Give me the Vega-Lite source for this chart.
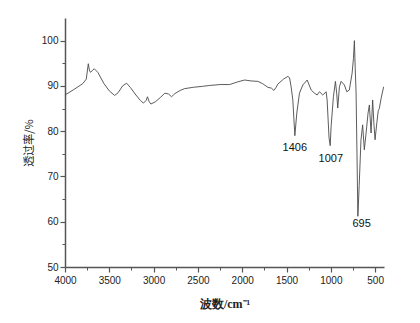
{
  "$schema": "https://vega.github.io/schema/vega-lite/v6.json",
  "width": 319,
  "height": 249,
  "autosize": {"type": "none"},
  "padding": {"left": 65, "top": 18, "right": 36, "bottom": 56},
  "background": "white",
  "config": {"view": {"stroke": null}},
  "layer": [
    {
      "data": {"values": [
        {"wn": 4000, "T": 88.0}, {"wn": 3900, "T": 89.2}, {"wn": 3800, "T": 90.5}, {"wn": 3760, "T": 91.5},
        {"wn": 3737, "T": 94.9}, {"wn": 3725, "T": 93.5}, {"wn": 3712, "T": 93.0}, {"wn": 3670, "T": 93.8},
        {"wn": 3630, "T": 93.0}, {"wn": 3560, "T": 90.5}, {"wn": 3500, "T": 88.9}, {"wn": 3440, "T": 87.9},
        {"wn": 3400, "T": 88.5}, {"wn": 3350, "T": 90.0}, {"wn": 3305, "T": 90.6}, {"wn": 3260, "T": 89.6},
        {"wn": 3200, "T": 88.0}, {"wn": 3150, "T": 86.8}, {"wn": 3115, "T": 86.2}, {"wn": 3085, "T": 86.8},
        {"wn": 3069, "T": 87.6}, {"wn": 3050, "T": 86.5}, {"wn": 3030, "T": 86.0}, {"wn": 2980, "T": 86.5},
        {"wn": 2920, "T": 87.5}, {"wn": 2874, "T": 88.4}, {"wn": 2830, "T": 88.2}, {"wn": 2798, "T": 87.6},
        {"wn": 2760, "T": 88.3}, {"wn": 2700, "T": 89.0}, {"wn": 2650, "T": 89.4}, {"wn": 2550, "T": 89.7},
        {"wn": 2450, "T": 89.9}, {"wn": 2367, "T": 90.1}, {"wn": 2250, "T": 90.3}, {"wn": 2142, "T": 90.3},
        {"wn": 2050, "T": 90.9}, {"wn": 1973, "T": 91.3}, {"wn": 1900, "T": 91.1}, {"wn": 1823, "T": 91.0},
        {"wn": 1770, "T": 90.5}, {"wn": 1711, "T": 89.7}, {"wn": 1670, "T": 89.5}, {"wn": 1643, "T": 89.0},
        {"wn": 1620, "T": 89.6}, {"wn": 1598, "T": 90.4}, {"wn": 1534, "T": 91.5}, {"wn": 1485, "T": 92.1},
        {"wn": 1466, "T": 91.8}, {"wn": 1448, "T": 89.8}, {"wn": 1429, "T": 86.9}, {"wn": 1406, "T": 79.0},
        {"wn": 1384, "T": 84.0}, {"wn": 1354, "T": 88.4}, {"wn": 1316, "T": 90.2}, {"wn": 1267, "T": 91.3},
        {"wn": 1222, "T": 89.1}, {"wn": 1185, "T": 88.4}, {"wn": 1154, "T": 88.0}, {"wn": 1128, "T": 88.7},
        {"wn": 1091, "T": 88.0}, {"wn": 1053, "T": 88.7}, {"wn": 1042, "T": 86.9}, {"wn": 1020, "T": 78.5},
        {"wn": 1007, "T": 76.8}, {"wn": 997, "T": 81.0}, {"wn": 971, "T": 87.6}, {"wn": 948, "T": 91.0},
        {"wn": 934, "T": 88.4}, {"wn": 922, "T": 85.1}, {"wn": 903, "T": 89.8}, {"wn": 884, "T": 91.0},
        {"wn": 847, "T": 90.2}, {"wn": 820, "T": 88.7}, {"wn": 791, "T": 89.1}, {"wn": 760, "T": 92.8},
        {"wn": 745, "T": 96.0}, {"wn": 734, "T": 100.0}, {"wn": 725, "T": 94.0}, {"wn": 715, "T": 88.4},
        {"wn": 705, "T": 75.0}, {"wn": 695, "T": 61.2}, {"wn": 680, "T": 68.0}, {"wn": 660, "T": 78.0},
        {"wn": 641, "T": 81.4}, {"wn": 622, "T": 75.9}, {"wn": 600, "T": 80.0}, {"wn": 580, "T": 84.0},
        {"wn": 565, "T": 85.8}, {"wn": 546, "T": 79.6}, {"wn": 528, "T": 86.9}, {"wn": 515, "T": 82.0},
        {"wn": 501, "T": 78.1}, {"wn": 480, "T": 82.0}, {"wn": 465, "T": 84.5}, {"wn": 453, "T": 85.0},
        {"wn": 430, "T": 87.5}, {"wn": 404, "T": 89.8}
      ]},
      "mark": {"type": "line", "color": "#4a4a4a", "strokeWidth": 0.9, "clip": true},
      "encoding": {
        "x": {
          "field": "wn", "type": "quantitative", "sort": null,
          "scale": {"domain": [400, 4000], "reverse": true, "nice": false, "zero": false},
          "axis": {
            "orient": "bottom", "values": [4000, 3500, 3000, 2500, 2000, 1500, 1000, 500], "format": "d",
            "grid": false, "domainColor": "#555", "domainWidth": 1.5, "tickColor": "#555", "tickWidth": 1.2,
            "tickSize": 5, "labelFont": "Liberation Sans", "labelFontSize": 10, "labelColor": "#222",
            "labelPadding": 3, "labelFlush": false, "labelOverlap": false,
            "title": "波数/cm⁻¹", "titleFont": "Liberation Serif", "titleFontWeight": "bold",
            "titleFontSize": 12, "titleColor": "#222", "titlePadding": 13
          }
        },
        "y": {
          "field": "T", "type": "quantitative",
          "scale": {"domain": [50, 105], "nice": false, "zero": false},
          "axis": {
            "orient": "left", "values": [50, 60, 70, 80, 90, 100], "format": "d",
            "grid": false, "domainColor": "#555", "domainWidth": 1.5, "tickColor": "#555", "tickWidth": 1.2,
            "tickSize": 5, "labelFont": "Liberation Sans", "labelFontSize": 10, "labelColor": "#222",
            "labelPadding": 2, "labelFlush": false, "labelOverlap": false,
            "title": "透过率/%", "titleFont": "Noto Sans CJK SC", "titleFontWeight": "normal",
            "titleFontSize": 11, "titleColor": "#222", "titlePadding": 7
          }
        }
      }
    },
    {
      "data": {"values": [
        {"label": "1406", "wn": 1406, "T": 76.2},
        {"label": "1007", "wn": 1000, "T": 73.9},
        {"label": "695", "wn": 652, "T": 59.6}
      ]},
      "mark": {"type": "text", "font": "Liberation Sans", "fontSize": 11, "color": "#111", "align": "center", "baseline": "middle"},
      "encoding": {
        "x": {
          "field": "wn", "type": "quantitative",
          "scale": {"domain": [400, 4000], "reverse": true, "nice": false, "zero": false},
          "axis": {"orient": "bottom", "values": [3750, 3250, 2750, 2250, 1750, 1250, 750], "labels": false,
                   "domain": false, "grid": false, "tickColor": "#555", "tickWidth": 1, "tickSize": 3, "title": null}
        },
        "y": {
          "field": "T", "type": "quantitative",
          "scale": {"domain": [50, 105], "nice": false, "zero": false},
          "axis": {"orient": "left", "values": [55, 65, 75, 85, 95], "labels": false,
                   "domain": false, "grid": false, "tickColor": "#555", "tickWidth": 1, "tickSize": 3, "title": null}
        },
        "text": {"field": "label"}
      }
    }
  ],
  "resolve": {"axis": {"x": "independent", "y": "independent"}}
}
